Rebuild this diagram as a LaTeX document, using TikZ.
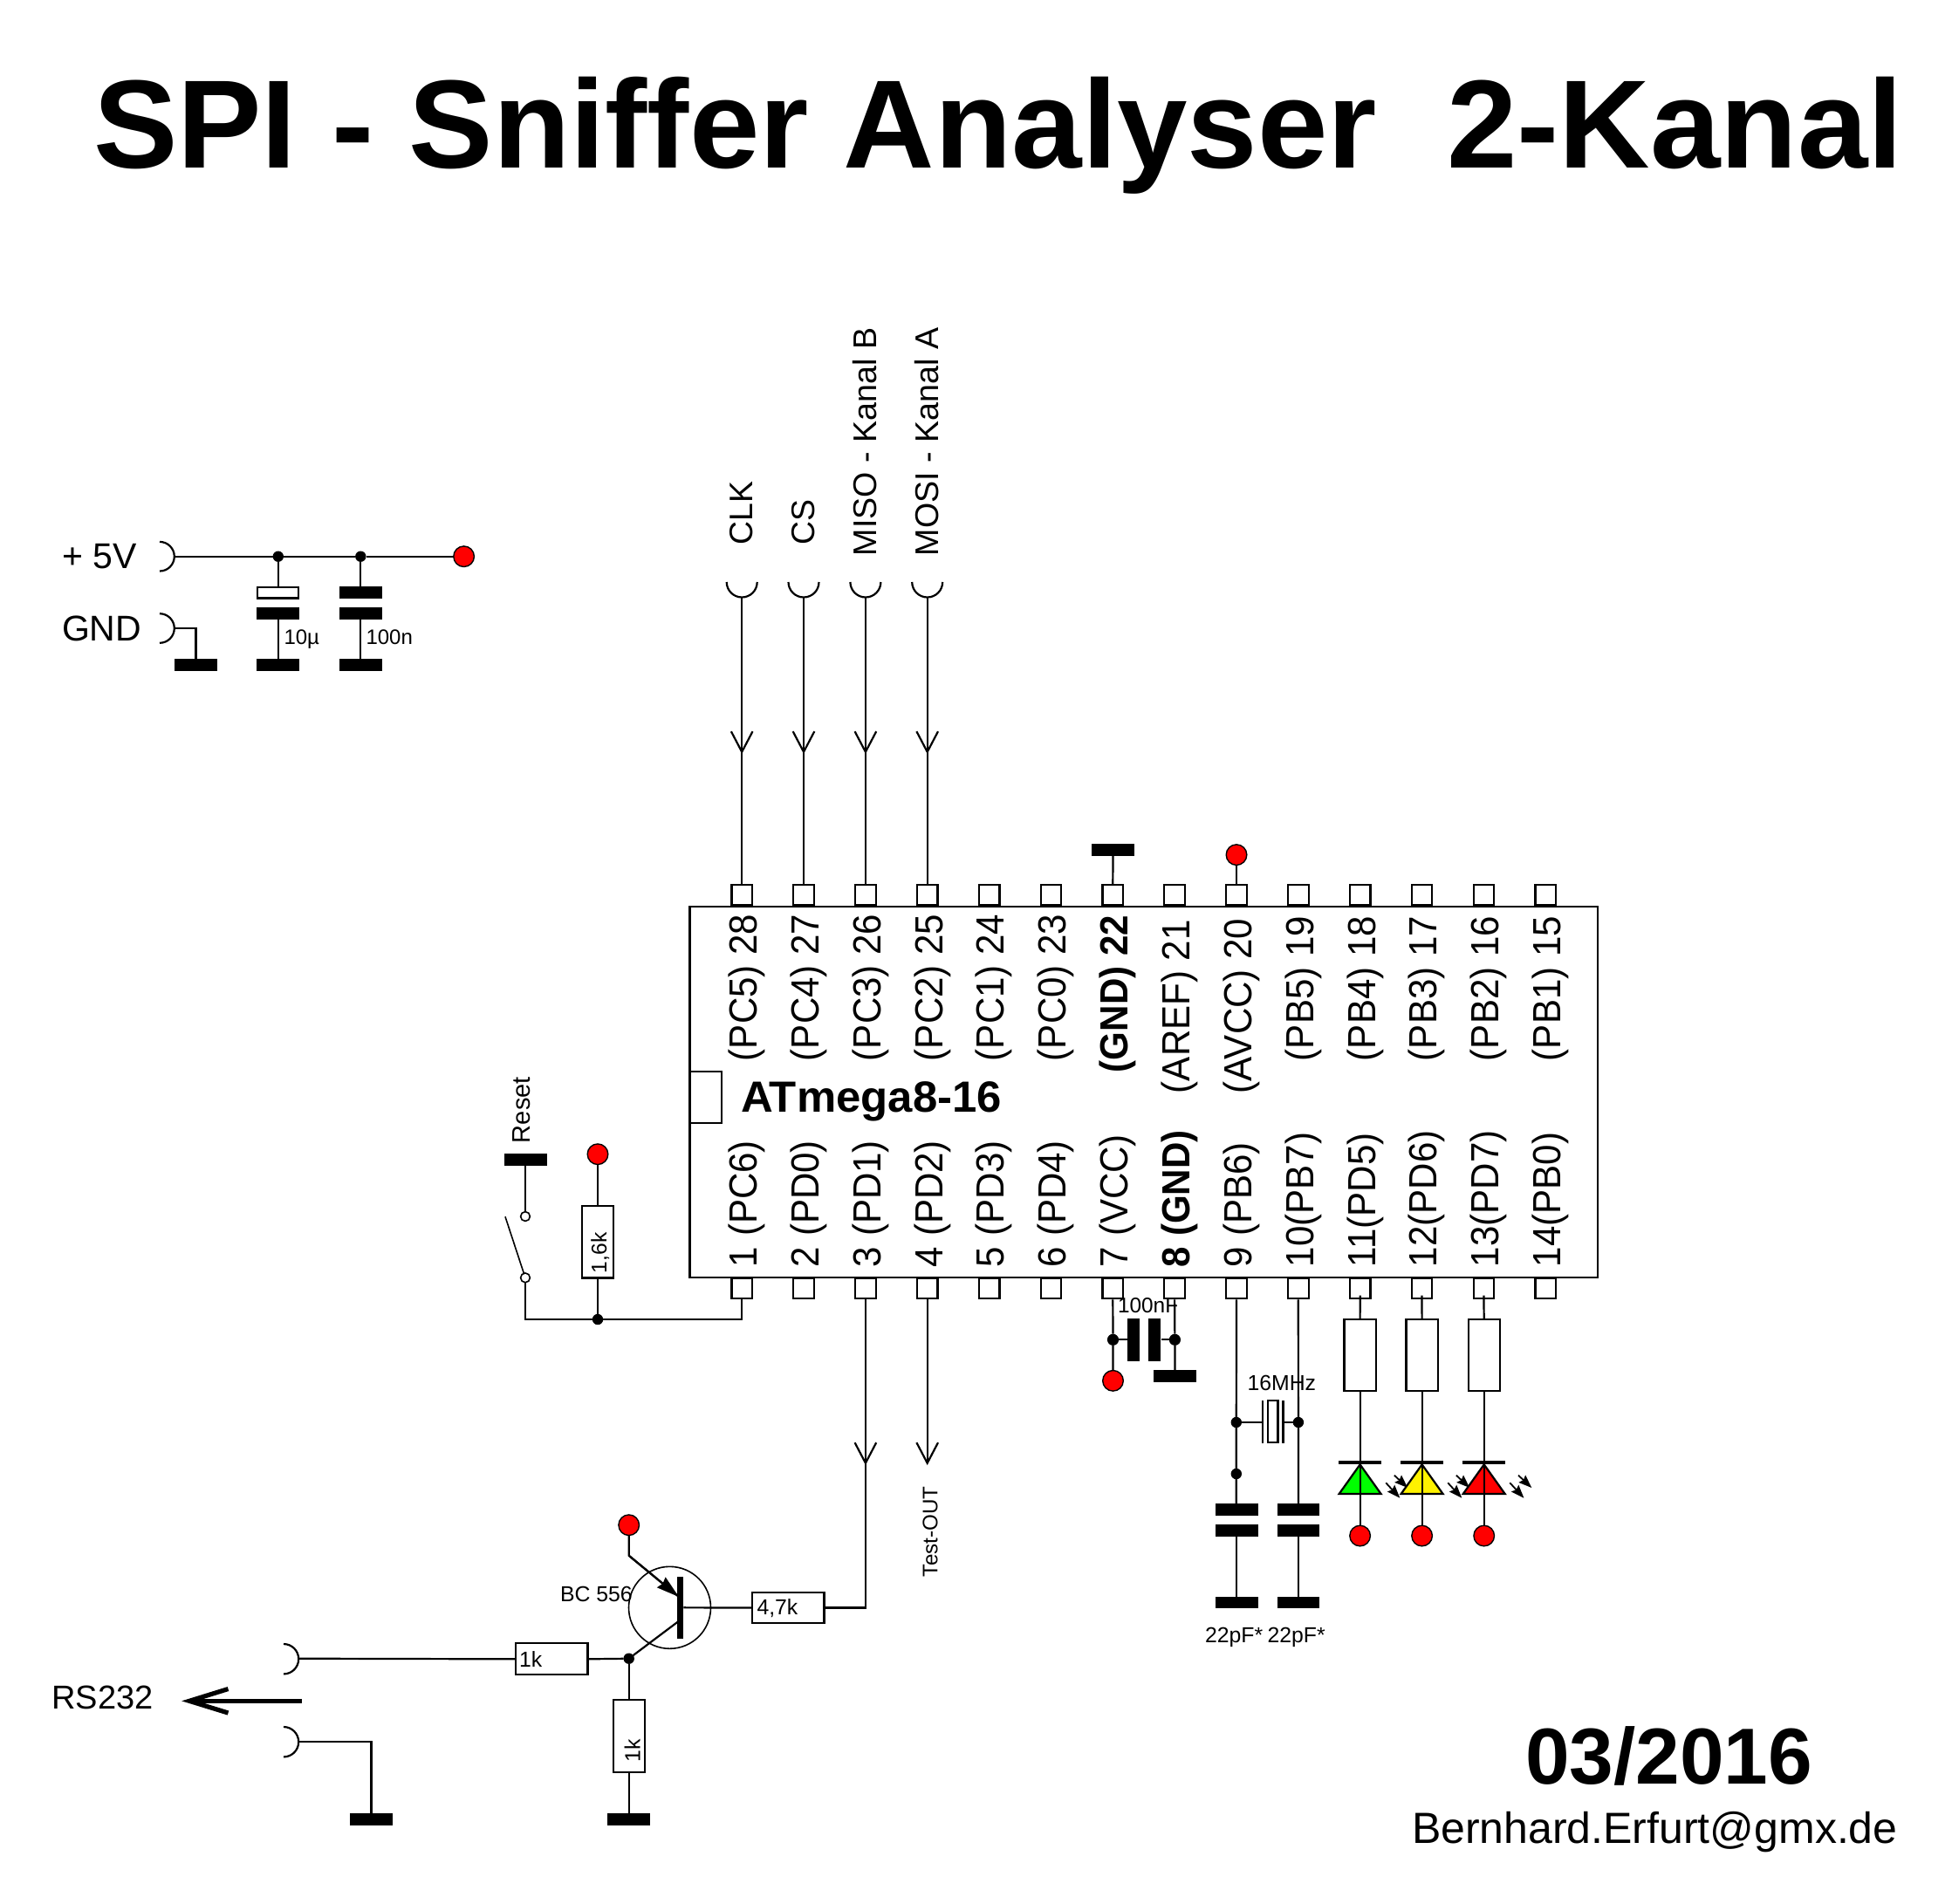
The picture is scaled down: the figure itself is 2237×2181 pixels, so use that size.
\documentclass[tikz,border=0pt]{standalone}
\usepackage{fontspec}
\setmainfont{Liberation Sans}
\usetikzlibrary{calc,arrows.meta}
\tikzset{
  wire/.style={line width=1.1pt,line join=miter,draw=black},
  fs/.style={font=\fontsize{#1}{#1}\selectfont},
  lbl/.style={inner sep=0pt,outer sep=0pt,anchor=base west,text=black},
  vlbl/.style={lbl,rotate=90},
  pinbox/.style={draw=black,line width=1.1pt,fill=white,rectangle,inner sep=0pt,minimum width=11.8pt,minimum height=11.8pt},
  outbox/.style={draw=black,line width=1.1pt,fill=white,rectangle,inner sep=0pt,outer sep=0pt},
  bar/.style={fill=black,rectangle,inner sep=0pt,outer sep=0pt,minimum width=24.4pt,minimum height=7pt},
  reddot/.style={circle,draw=black,line width=.7pt,fill=red,inner sep=0pt,minimum size=11.8pt,outer sep=0pt},
  jdot/.style={circle,fill=black,inner sep=0pt,minimum size=6.2pt,outer sep=0pt},
  odot/.style={circle,draw=black,line width=.8pt,fill=white,inner sep=0pt,minimum size=5.4pt,outer sep=0pt},
  led/.style={draw=black,line width=1.1pt,line join=miter},
  ray/.style={line width=.9pt,-{Stealth[length=7.5pt,width=5.6pt,inset=1pt]}},
}
\newcommand{\vhead}[1]{\draw[wire] ($(#1)+(-12.3,-23.5)$) -- (#1) -- ($(#1)+(12.3,-23.5)$);}
\newcommand{\pintext}[1]{\scalebox{0.935}[1]{#1}}
\begin{document}
\begin{tikzpicture}[x=0.5pt,y=-0.5pt]
\fill[white] (0,0) rectangle (2237,2181);
\useasboundingbox (0,0) rectangle (2237,2181);

% title and footer
\node[lbl,fs=72pt] (title) at (107,192.7) {\scalebox{1.0045}[1]{\bfseries SPI - Sniffer Analyser\ \ 2-Kanal}};
\node[lbl,fs=45.5pt] (date) at (1748,2044) {\bfseries 03/2016};
\node[lbl,fs=25pt] (mail) at (1618,2112.7) {Bernhard.Erfurt@gmx.de};

% IC body
\node[outbox,anchor=north west,minimum width=520.2pt,minimum height=212.5pt] (ic) at (790.5,1038.6) {};
\node[outbox,anchor=north west,minimum width=18.2pt,minimum height=29.5pt] (notch) at (790.5,1228) {};
\node[lbl,fs=25pt] (icname) at (849,1274) {\scalebox{1.018}[1]{\bfseries ATmega8-16}};

% pins
\foreach \n/\x in {28/850.2,27/921,26/991.9,25/1062.7,24/1133.6,23/1204.4,22/1275.3,21/1346.1,20/1417,19/1487.8,18/1558.7,17/1629.5,16/1700.4,15/1771.2}
  \node[pinbox,anchor=south] (T\n) at (\x,1038.6) {};
\foreach \n/\x in {1/850.2,2/921,3/991.9,4/1062.7,5/1133.6,6/1204.4,7/1275.3,8/1346.1,9/1417,10/1487.8,11/1558.7,12/1629.5,13/1700.4,14/1771.2}
  \node[pinbox,anchor=north] (B\n) at (\x,1463.6) {};

% pin texts
\foreach \n/\t/\y in {28/(PC5) 28/1216,27/(PC4) 27/1216,26/(PC3) 26/1216,25/(PC2) 25/1216,24/(PC1) 24/1216,23/(PC0) 23/1216,21/(AREF) 21/1253,20/(AVCC) 20/1253,19/(PB5) 19/1216,18/(PB4) 18/1216,17/(PB3) 17/1216,16/(PB2) 16/1216,15/(PB1) 15/1216}
  \node[vlbl,fs=22.5pt] (tt\n) at ($(T\n.south |- 0,\y)+(17.3,0)$) {\pintext{\t}};
\node[vlbl,fs=22.5pt] (tt22) at ($(T22.south |- 0,1229)+(17.3,0)$) {\pintext{\bfseries (GND) 22}};
\foreach \n/\t/\y in {1/1 (PC6)/1452,2/2 (PD0)/1452,3/3 (PD1)/1452,4/4 (PD2)/1452,5/5 (PD3)/1452,6/6 (PD4)/1452,7/7 (VCC)/1452,9/9 (PB6)/1452,10/10(PB7)/1452,11/11(PD5)/1452,12/12(PD6)/1452,13/13(PD7)/1452,14/14(PB0)/1452}
  \node[vlbl,fs=22.5pt] (bt\n) at ($(B\n.north |- 0,\y)+(17.3,0)$) {\pintext{\t}};
\node[vlbl,fs=22.5pt] (bt8) at ($(B8.north |- 0,1452)+(17.3,0)$) {\pintext{\bfseries 8 (GND)}};

% input sockets at the top
\foreach \n/\x in {28/850.2,27/921,26/991.9,25/1062.7}{
  \coordinate (S\n) at (\x,684.5);
  \coordinate (A\n) at (\x,861.7);
  \draw[wire] (\x,667) ++(-17.5,0) arc[start angle=180,end angle=360,radius=8.75pt];
  \draw[wire] (S\n) -- (T\n.north);
  \vhead{A\n}
}
\node[vlbl,fs=18.7pt] (lclk) at (862.7,624) {CLK};
\node[vlbl,fs=18.7pt] (lcs) at (933.3,624) {CS};
\node[vlbl,fs=18.8pt] (lmiso) at (1004,637) {MISO - Kanal B};
\node[vlbl,fs=18.8pt] (lmosi) at (1075.3,637) {MOSI - Kanal A};

% pins 22 and 20
\node[bar,minimum width=24.5pt] (g22) at (1275.5,974) {};
\draw[wire] (g22.south) -- (T22.north);
\node[reddot] (v20) at (1417,979.6) {};
\draw[wire] (v20.south) -- (T20.north);

% supply section
\node[lbl,fs=20.5pt] (l5v) at (71,651.7) {+ 5V};
\node[lbl,fs=20.5pt] (lgnd) at (71,734.3) {GND};
\coordinate (s5v) at (200,637.7);
\coordinate (sgnd) at (200,720);
\draw[wire] (183,620.9) arc[start angle=90,end angle=-90,radius=8.4pt];
\draw[wire] (183,703.2) arc[start angle=90,end angle=-90,radius=8.4pt];
\node[jdot] (j1) at (318.8,637.7) {};
\node[jdot] (j2) at (413.3,637.7) {};
\node[reddot] (vcc) at (531.6,637.7) {};
\draw[wire] (s5v) -- (j1) -- (j2) -- (vcc);
\node[outbox,minimum width=23.5pt,minimum height=6.4pt] (c1t) at (318.2,679) {};
\node[bar] (c1m) at (318.2,703) {};
\node[bar] (c1b) at (318.2,762) {};
\node[bar] (c2t) at (413.8,679) {};
\node[bar] (c2m) at (413.8,703) {};
\node[bar] (c2b) at (413.8,762) {};
\draw[wire] (j1) -- (j1 |- c1t.north);
\draw[wire] (j1 |- c1m.south) -- (j1 |- c1b.north);
\draw[wire] (j2) -- (j2 |- c2t.north);
\draw[wire] (j2 |- c2m.south) -- (j2 |- c2b.north);
\node[lbl,fs=12pt] (l10u) at (325.5,738.3) {10µ};
\node[lbl,fs=12pt] (l100n) at (419.5,738.3) {100n};
\node[bar] (gndb) at (224.5,762) {};
\draw[wire] (sgnd) -| (gndb.north);

% reset
\node[vlbl,fs=14.5pt] (lreset) at (607.3,1310) {Reset};
\node[bar] (gr) at (602.3,1329) {};
\node[odot] (c1) at (602,1394) {};
\node[odot] (c2) at (602,1464.3) {};
\draw[wire] (gr.south -| c1) -- (c1);
\coordinate (blade) at (579,1394.3);
\draw[line width=.8pt] (blade) -- (c2);
\node[jdot] (j3) at (685,1512) {};
\draw[wire] (c2) |- (j3);
\draw[wire] (j3) -| (B1.south);
\node[outbox,minimum width=18.3pt,minimum height=41.2pt] (r16) at (685,1423.2) {};
\node[vlbl,fs=12.3pt] (l16) at (695,1459) {1,6k};
\node[reddot] (v1) at (685,1322.7) {};
\draw[wire] (v1) -- (r16.north);
\draw[wire] (r16.south) -- (j3);

% pin 7 / 8 decoupling
\node[jdot,minimum size=6.6pt] (j7) at (1275.5,1535.3) {};
\node[jdot,minimum size=6.6pt] (j8) at (1346.4,1535.3) {};
\node[reddot] (v7) at (1275.5,1582.3) {};
\node[bar] (g8) at (1346.4,1577) {};
\draw[wire] (B7.south) -- (j7) -- (v7);
\draw[wire] (B8.south) -- (j8) -- (g8.north);
\node[fill=black,inner sep=0pt,minimum width=7.2pt,minimum height=24.5pt] (cp1) at (1299.2,1535.3) {};
\node[fill=black,inner sep=0pt,minimum width=7.2pt,minimum height=24.5pt] (cp2) at (1323.2,1535.3) {};
\draw[wire] (j7) -- (cp1);
\draw[wire] (cp2) -- (j8);
\node[lbl,fs=12.2pt] (l100nf) at (1281,1504.3) {100nF};

% crystal and load capacitors
\node[jdot] (j9) at (1416.8,1630) {};
\node[jdot] (j10) at (1487.9,1630) {};
\node[jdot] (j9b) at (1416.8,1689) {};
\node[bar] (c9t) at (1417.5,1730) {};
\node[bar] (c9m) at (1417.5,1754) {};
\node[bar,minimum height=6.4pt] (c9b) at (1417.5,1836.4) {};
\node[bar] (c10t) at (1487.9,1730) {};
\node[bar] (c10m) at (1487.9,1754) {};
\node[bar,minimum height=6.4pt] (c10b) at (1487.9,1836.4) {};
\draw[wire] (B9.south) -- (j9) -- (j9b) -- (j9 |- c9t.north);
\draw[wire] (j9 |- c9m.south) -- (j9 |- c9b.north);
\draw[wire] (B10.south) -- (j10) -- (j10 |- c10t.north);
\draw[wire] (j10 |- c10m.south) -- (j10 |- c10b.north);
\coordinate (xl) at (1446.8,1630);
\coordinate (xr) at (1470.4,1630);
\draw[wire] (j9) -- (xl);
\draw[wire] (xr) -- (j10);
\draw[wire] (xl |- 0,1605.3) -- (xl |- 0,1654);
\draw[wire] (xr |- 0,1605.3) -- (xr |- 0,1654);
\node[outbox,minimum width=5.8pt,minimum height=24pt,fill=none] (xt) at (1458.7,1629.3) {};
\node[lbl,fs=12.4pt] (l16m) at (1429.5,1593.3) {16MHz};
\node[lbl,fs=12.4pt] (l22a) at (1381,1882.7) {22pF*};
\node[lbl,fs=12.4pt] (l22b) at (1452.5,1882.7) {22pF*};

% LEDs
\foreach \n/\x/\c in {11/1558.6/green,12/1629.6/yellow,13/1700.7/red}{
  \coordinate (L\n) at (\x,1678.3);
  \fill[\c] (L\n) -- ($(L\n)+(-24,33.7)$) -- ($(L\n)+(24,33.7)$) -- cycle;
  \draw[led] (L\n) -- ($(L\n)+(-24,33.7)$) -- ($(L\n)+(24,33.7)$) -- cycle;
  \node[fill=black,inner sep=0pt,minimum width=24.6pt,minimum height=2.1pt] (K\n) at ($(L\n)+(0,-2)$) {};
  \node[outbox,minimum width=18.1pt,minimum height=41.3pt] (RL\n) at (\x,1553) {};
  \node[reddot] (VL\n) at (\x,1760) {};
  \draw[wire] ($(B\n.south)+(0,-4.7)$) -- (RL\n.north);
  \draw[wire] (RL\n.south) -- (VL\n);
  \draw[ray] ($(L\n)+(29.6,21)$) -- ($(L\n)+(45.7,38.4)$);
  \draw[ray] ($(L\n)+(39.3,12.4)$) -- ($(L\n)+(54.6,26.7)$);
}

% pin 3 / pin 4
\coordinate (A3) at (991.9,1676.7);
\coordinate (A4) at (1062.7,1676.7);
\vhead{A3}
\vhead{A4}
\draw[wire] (B4.south) -- (A4);
\node[vlbl,fs=12.1pt] (ltest) at (1074.3,1807) {Test-OUT};

% transistor stage
\node[circle,draw=black,line width=.8pt,inner sep=0pt,minimum size=47pt,outer sep=0pt] (q) at (767.5,1842.3) {};
\node[fill=black,inner sep=0pt,minimum width=3.6pt,minimum height=35.4pt] (qb) at (779.3,1842.3) {};
\node[reddot] (ve) at (720.7,1747.7) {};
\coordinate (ek) at (720.7,1782.7);
\coordinate (et) at (778,1830);
\draw[wire] (ve) -- (ek) -- (et);
\draw[wire,-{Stealth[length=13pt,width=7.5pt,inset=1pt]}] (ek) -- (et);
\coordinate (ct) at (779.3,1856.7);
\node[jdot] (j4) at (720.7,1900.7) {};
\draw[wire] (ct) -- (j4);
\node[lbl,fs=12.4pt] (lbc) at (642,1835.7) {BC 556};
\node[outbox,minimum width=41.2pt,minimum height=17.8pt] (r47) at (903.2,1842.5) {};
\node[lbl,fs=12.4pt] (l47) at (867.5,1850.7) {4,7k};
\draw[wire] (qb) -- (r47.west);
\draw[wire] (r47.east) -| (B3.south);
\node[outbox,minimum width=41.4pt,minimum height=18pt] (r1a) at (632,1901.3) {};
\node[lbl,fs=12.4pt] (l1a) at (595,1910) {1k};
\coordinate (s232) at (342.5,1900.7);
\coordinate (s232g) at (342.5,1995.7);
\draw[wire] (325,1884) arc[start angle=90,end angle=-90,radius=8.6pt];
\draw[wire] (325,1979) arc[start angle=90,end angle=-90,radius=8.6pt];
\draw[wire] (s232) -- (r1a.west);
\draw[wire] (r1a.east) -- (j4);
\node[outbox,minimum width=17.9pt,minimum height=41.5pt] (r1b) at (720.7,1989.8) {};
\node[vlbl,fs=12.4pt] (l1b) at (733.5,2019) {1k};
\node[bar] (g1b) at (720.7,2084.5) {};
\node[bar] (g232) at (425.5,2084.5) {};
\draw[wire] (j4) -- (r1b.north);
\draw[wire] (r1b.south) -- (g1b.north);
\draw[wire] (s232g) -| (g232.north);
\node[lbl,fs=19pt] (lrs) at (59.5,1958.3) {RS232};
\coordinate (bigtip) at (217,1949.3);
\coordinate (bigtail) at (345.7,1949.3);
\draw[line width=2.6pt] (bigtail) -- (bigtip);
\draw[line width=2.6pt,line join=miter] (261.5,1935.5) -- (bigtip) -- (261.5,1963);
\end{tikzpicture}
\end{document}
